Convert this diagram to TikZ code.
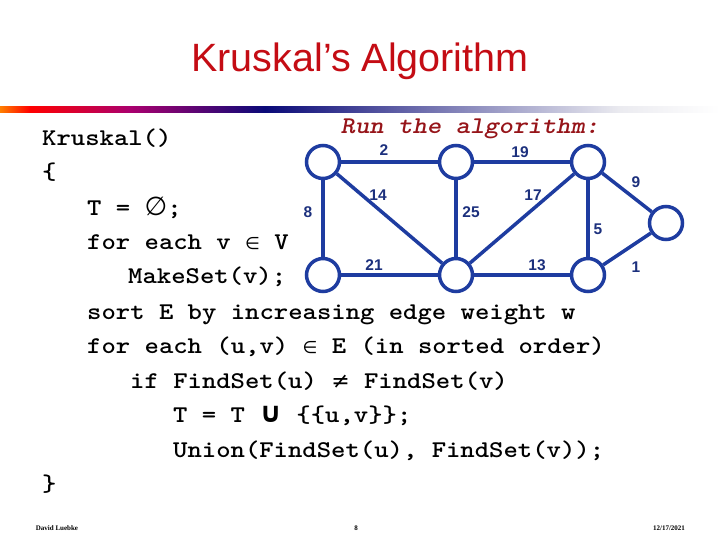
\documentclass[tikz,border=0pt]{standalone}
\usepackage{fontspec}
\setmainfont{Liberation Serif}
\newfontfamily\titlefont{Liberation Sans}
\newfontfamily\codefont{lmmonolt10-bold.otf}[FakeStretch=1.14]
\newfontfamily\runfont{lmmonolt10-boldoblique.otf}[FakeStretch=1.14]
\newfontfamily\bigsym{DejaVu Sans}
\definecolor{titlered}{RGB}{196,12,20}
\definecolor{runred}{RGB}{150,20,25}
\definecolor{edgeblue}{RGB}{30,60,160}
\definecolor{labblue}{RGB}{28,48,125}
\definecolor{navy}{RGB}{10,10,120}
\pgfdeclarelayer{bg}
\pgfsetlayers{bg,main}
\tikzset{
  vert/.style={circle,draw=edgeblue,line width=3.5pt,fill=white,minimum size=33pt,inner sep=0pt},
  edge/.style={draw=edgeblue,line width=3.5pt},
  wlab/.style={text=labblue,font=\titlefont\bfseries\fontsize{15.5}{16}\selectfont,inner sep=0pt},
  code/.style={anchor=base west,inner sep=0pt,font=\codefont\fontsize{24}{24}\selectfont,text=black},
  foot/.style={anchor=base,inner sep=0pt,font=\fontsize{7}{7}\selectfont\bfseries}
}
\begin{document}
\begin{tikzpicture}[x=1pt,y=-1pt]
\useasboundingbox (0,0) rectangle (720,540);
% title
\node[anchor=base,inner sep=0pt,text=titlered,font=\titlefont\fontsize{39.5}{40}\selectfont] (title) at (360,72) {Kruskal’s Algorithm};
% gradient bar
\shade[left color=orange,right color=red] (0,107) rectangle (30,113);
\shade[left color=red,right color={rgb,255:red,170;green,0;blue,110}] (30,107) rectangle (130,113);
\shade[left color={rgb,255:red,170;green,0;blue,110},right color=navy] (130,107) rectangle (265,113);
\shade[left color=navy,right color={rgb,255:red,235;green,235;blue,240}] (265,107) rectangle (620,113);
\shade[left color={rgb,255:red,235;green,235;blue,240},right color=white] (620,107) rectangle (720,113);
% code
\node[code] (l1) at (42,146) {Kruskal()};
\node[code] (l2) at (42,180) {\{};
\node[code] (l3) at (87,215) {T = {\bigsym\fontsize{26}{26}\selectfont ∅};};
\node[code] (l4) at (87,249) {for each v {\bigsym\fontsize{17}{17}\selectfont ∈} V};
\node[code] (l5) at (128,283) {MakeSet(v);};
\node[code] (l6) at (87,319) {sort E by increasing edge weight w};
\node[code] (l7) at (87,353) {for each (u,v) {\bigsym\fontsize{17}{17}\selectfont ∈} E (in sorted order)};
\node[code] (l8) at (130,388) {if FindSet(u) {\bigsym\fontsize{22}{22}\selectfont ≠} FindSet(v)};
\node[code] (l9) at (173,422) {T = T {\bigsym\bfseries\fontsize{28}{28}\selectfont ∪} \{\{u,v\}\};};
\node[code] (l10) at (173,457) {Union(FindSet(u), FindSet(v));};
\node[code] (l11) at (42,491) {\}};
% run the algorithm
\node[anchor=base,inner sep=0pt,text=runred,font=\runfont\fontsize{24}{24}\selectfont] (run) at (470,134) {Run the algorithm:};
% graph
\node[vert] (A) at (323,162) {};
\node[vert] (B) at (456,162) {};
\node[vert] (C) at (588,162) {};
\node[vert] (D) at (666,223) {};
\node[vert] (E) at (323,275) {};
\node[vert] (F) at (456,275) {};
\node[vert] (G) at (588,275) {};
\begin{pgfonlayer}{bg}
\draw[edge] (A) -- (B);
\draw[edge] (B) -- (C);
\draw[edge] (A) -- (E);
\draw[edge] (A) -- (F);
\draw[edge] (B) -- (F);
\draw[edge] (C) -- (F);
\draw[edge] (C) -- (G);
\draw[edge] (C) -- (D);
\draw[edge] (E) -- (F);
\draw[edge] (F) -- (G);
\draw[edge] (G) -- (D);
\end{pgfonlayer}
\node[wlab] (w2) at (384,150) {2};
\node[wlab] (w19) at (520,152) {19};
\node[wlab] (w9) at (636,182) {9};
\node[wlab] (w14) at (378,195) {14};
\node[wlab] (w25) at (471,212) {25};
\node[wlab] (w17) at (533,195) {17};
\node[wlab] (w5) at (598,229) {5};
\node[wlab] (w8) at (308,212) {8};
\node[wlab] (w21) at (374,265) {21};
\node[wlab] (w13) at (537,265) {13};
\node[wlab] (w1) at (636,267) {1};
% footer
\node[foot] (f1) at (57,530) {David Luebke};
\node[foot] (f2) at (356,530) {8};
\node[foot] (f3) at (669,530) {12/17/2021};
\end{tikzpicture}
\end{document}
